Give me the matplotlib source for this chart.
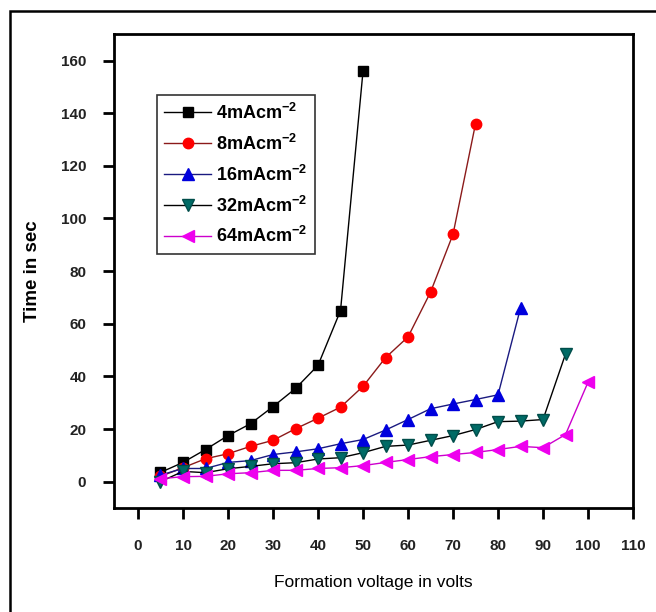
import matplotlib
matplotlib.use("Agg")
import matplotlib.pyplot as plt
from matplotlib.patches import Rectangle

plt.rcParams["font.family"] = ["Liberation Sans", "DejaVu Sans"]
plt.rcParams["mathtext.default"] = "regular"

# 数据
v4 = [5, 10, 15, 20, 25, 30, 35, 40, 45, 50]
t4 = [3.5, 7.3, 12.2, 17.5, 22, 28.5, 35.4, 44.2, 65, 156]

v8 = [5, 10, 15, 20, 25, 30, 35, 40, 45, 50, 55, 60, 65, 70, 75]
t8 = [2, 5.3, 8.7, 10.6, 13.4, 15.7, 20.1, 24.1, 28.3, 36.2, 47.1, 55, 72, 94, 136]

v16 = [5, 10, 15, 20, 25, 30, 35, 40, 45, 50, 55, 60, 65, 70, 75, 80, 85]
t16 = [2.5, 5, 5, 7.3, 8, 10.3, 11.3, 12.5, 14.4, 16, 19.6, 23.6, 27.7, 29.5, 31.2, 33, 66]

v32 = [5, 10, 15, 20, 25, 30, 35, 40, 45, 50, 55, 60, 65, 70, 75, 80, 85, 90, 95]
t32 = [0, 3.9, 3.4, 4.9, 5.8, 6.8, 7.2, 8.6, 9.1, 11, 13.4, 13.9, 15.7, 17.5, 19.8, 22.8, 23, 23.6, 48.5]

v64 = [5, 10, 15, 20, 25, 30, 35, 40, 45, 50, 55, 60, 65, 70, 75, 80, 85, 90, 95, 100]
t64 = [1.1, 1.9, 2.0, 3.0, 3.4, 4.3, 4.3, 5.0, 5.3, 6.1, 7.3, 8.4, 9.5, 10.3, 11.1, 12.2, 13.4, 12.9, 17.9, 37.8]

labels = ["4mAcm$^{-2}$", "8mAcm$^{-2}$", "16mAcm$^{-2}$", "32mAcm$^{-2}$", "64mAcm$^{-2}$"]

fig = plt.figure(figsize=(6.56, 6.12), dpi=100)
ax = fig.add_axes([0.174, 0.170, 0.791, 0.774])

# 外框
fig.patches.append(Rectangle((10 / 656, -0.05), 1.2, 1 - 11 / 612 + 0.05,
                             transform=fig.transFigure, fill=False,
                             edgecolor="black", linewidth=1.8))

ms = 7.5
ax.plot(v4, t4, "-", color="black", lw=1, marker="s", ms=ms,
        mfc="black", mec="black", label=labels[0])
ax.plot(v8, t8, "-", color="#8b1a1a", lw=1, marker="o", ms=ms,
        mfc="red", mec="red", label=labels[1])
ax.plot(v16, t16, "-", color="#1a1a80", lw=1, marker="^", ms=ms + 1,
        mfc="#0000dd", mec="#0000dd", label=labels[2])
ax.plot(v32, t32, "-", color="black", lw=1, marker="v", ms=ms + 1,
        mfc="#006b66", mec="#004d4a", label=labels[3])
ax.plot(v64, t64, "-", color="#cc00cc", lw=1, marker="<", ms=ms + 1,
        mfc="#ee00ee", mec="#ee00ee", label=labels[4])

ax.set_xlim(-5.3, 110)
ax.set_ylim(-10, 170)
ax.set_xticks(range(0, 111, 10))
ax.set_yticks(range(0, 161, 20))

for sp in ax.spines.values():
    sp.set_linewidth(2)
ax.tick_params(direction="out", length=8, width=2, labelsize=11,
               labelcolor="#222222")
ax.tick_params(axis="x", pad=14)
ax.tick_params(axis="y", pad=12)
for t in ax.get_xticklabels() + ax.get_yticklabels():
    t.set_fontweight("bold")

ax.set_xlabel("Formation voltage in volts", fontsize=12.5, labelpad=16)
ax.set_ylabel("Time in sec", fontsize=13.5, fontweight="bold", labelpad=14)

leg = ax.legend(loc="upper left", bbox_to_anchor=(0.065, 0.89),
                prop={"size": 13, "weight": "bold"},
                frameon=True, fancybox=False, edgecolor="black",
                handlelength=2.6, handletextpad=0.3, borderpad=0.4,
                labelspacing=0.6)
leg.get_frame().set_linewidth(1.2)

fig.savefig("out.png", dpi=100)
